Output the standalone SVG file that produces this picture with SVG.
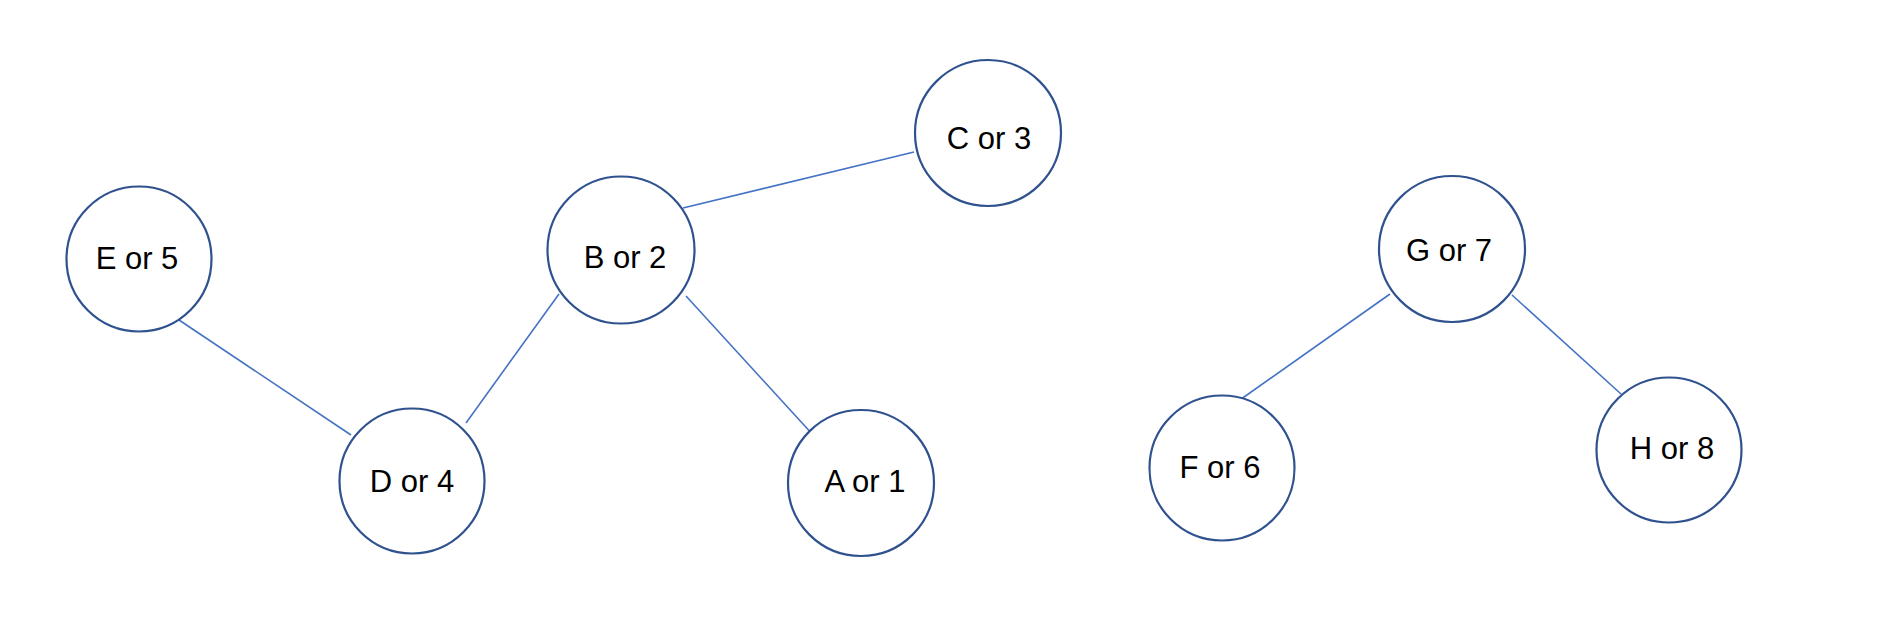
<svg xmlns="http://www.w3.org/2000/svg" width="1901" height="620" viewBox="0 0 1901 620">
<style>
.n{fill:#fff;stroke:#2F528F;stroke-width:2.2}
.t{font-family:"Liberation Sans",Arial,sans-serif;font-size:31px;fill:#000;text-anchor:middle}
.e{stroke:#4472C4;stroke-width:1.6;fill:none}
</style>
<rect width="1901" height="620" fill="#fff"/>
<g id="connectors">
<line class="e" x1="179" y1="320" x2="351" y2="435"/>
<line class="e" x1="559" y1="294" x2="466" y2="423"/>
<line class="e" x1="683" y1="208" x2="914" y2="152"/>
<line class="e" x1="686" y1="296" x2="814" y2="436"/>
<line class="e" x1="1390" y1="294" x2="1237" y2="402"/>
<line class="e" x1="1512" y1="295" x2="1621" y2="394"/>
</g>
<g id="node-e"><circle class="n" cx="139" cy="259" r="72.5"/><text class="t" x="137" y="269">E or 5</text></g>
<g id="node-b"><circle class="n" cx="621" cy="250" r="73.5"/><text class="t" x="625" y="268">B or 2</text></g>
<g id="node-c"><circle class="n" cx="988" cy="133" r="73"/><text class="t" x="989" y="149">C or 3</text></g>
<g id="node-d"><circle class="n" cx="412" cy="481" r="72.5"/><text class="t" x="412" y="492">D or 4</text></g>
<g id="node-a"><circle class="n" cx="861" cy="483" r="73"/><text class="t" x="865" y="492">A or 1</text></g>
<g id="node-g"><circle class="n" cx="1452" cy="249" r="73"/><text class="t" x="1449" y="261">G or 7</text></g>
<g id="node-f"><circle class="n" cx="1222" cy="468" r="72.5"/><text class="t" x="1220" y="478">F or 6</text></g>
<g id="node-h"><circle class="n" cx="1669" cy="450" r="72.5"/><text class="t" x="1672" y="459">H or 8</text></g>
</svg>
